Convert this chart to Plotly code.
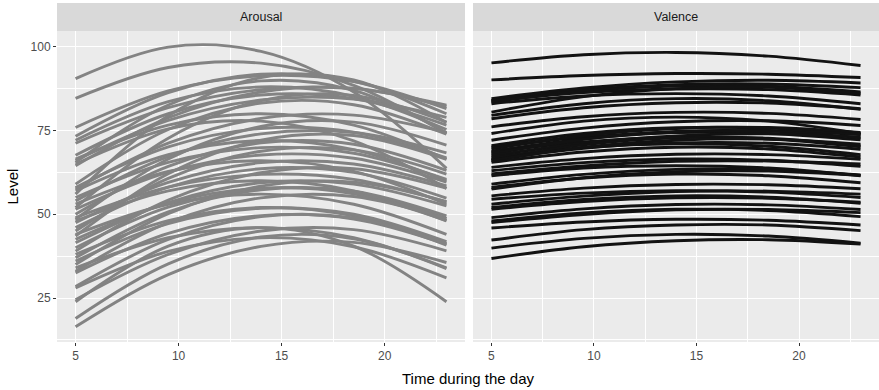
import plotly.graph_objects as go

times = [5, 9.5, 14, 18.5, 23]

arousal_curves = [
    [90.5, 99.9, 98.6, 86.5, 63.7],
    [84.6, 93.8, 95.1, 88.5, 74.1],
    [75.9, 86.8, 91.3, 89.6, 81.5],
    [73.3, 86.3, 91.8, 89.7, 80.0],
    [72.1, 83.6, 88.0, 85.2, 75.3],
    [71.2, 81.8, 87.2, 87.5, 82.6],
    [67.6, 80.0, 85.6, 84.5, 76.6],
    [66.5, 76.6, 80.0, 76.6, 66.5],
    [66.0, 78.0, 84.1, 84.4, 78.9],
    [65.5, 82.6, 89.8, 87.0, 74.3],
    [65.0, 75.5, 77.8, 71.9, 57.7],
    [64.5, 78.8, 86.5, 87.6, 82.1],
    [59.0, 75.3, 83.2, 82.7, 73.9],
    [58.0, 70.1, 75.6, 74.5, 66.8],
    [57.5, 71.2, 78.6, 79.6, 74.4],
    [57.0, 67.8, 72.0, 69.3, 60.0],
    [56.0, 79.4, 90.8, 90.1, 77.4],
    [55.0, 65.5, 69.9, 68.2, 60.4],
    [54.0, 67.2, 74.0, 74.4, 68.3],
    [53.0, 62.8, 66.0, 62.8, 53.0],
    [52.0, 72.7, 83.9, 85.5, 77.5],
    [51.5, 62.6, 67.7, 66.7, 59.6],
    [50.0, 64.3, 71.3, 70.9, 63.1],
    [49.0, 58.1, 61.9, 60.4, 53.7],
    [48.5, 66.5, 76.2, 77.5, 70.6],
    [48.0, 57.0, 60.0, 57.0, 48.0],
    [47.5, 59.5, 65.4, 65.0, 58.5],
    [46.0, 58.1, 63.6, 62.5, 54.8],
    [45.0, 60.7, 68.8, 69.2, 62.0],
    [44.0, 53.0, 56.0, 53.0, 44.0],
    [43.5, 62.1, 72.1, 73.5, 66.4],
    [42.5, 53.3, 57.8, 56.1, 48.1],
    [41.5, 53.5, 59.4, 59.0, 52.5],
    [40.0, 52.1, 57.6, 56.5, 48.8],
    [39.0, 54.2, 62.4, 63.6, 57.8],
    [38.0, 48.1, 52.0, 49.5, 40.8],
    [37.0, 50.7, 57.3, 56.9, 49.5],
    [36.0, 47.2, 51.8, 50.0, 41.8],
    [35.0, 50.2, 58.4, 59.6, 53.8],
    [34.0, 43.0, 46.0, 43.0, 34.0],
    [33.0, 47.5, 54.9, 55.3, 48.7],
    [32.5, 44.3, 49.6, 48.6, 41.1],
    [28.4, 42.5, 49.3, 48.9, 41.3],
    [28.0, 38.9, 43.0, 40.3, 31.0],
    [24.5, 38.0, 45.0, 45.4, 39.1],
    [23.9, 40.5, 46.0, 40.5, 23.9],
    [18.9, 35.2, 43.2, 42.7, 33.8],
    [16.4, 32.0, 40.4, 41.6, 35.6],
]

valence_curves = [
    [95.2, 97.6, 98.3, 97.2, 94.4],
    [90.1, 91.4, 92.0, 91.8, 90.8],
    [84.5, 87.7, 89.5, 90.0, 89.2],
    [84.0, 87.1, 88.7, 88.9, 87.8],
    [83.5, 86.8, 88.3, 88.2, 86.5],
    [83.0, 85.3, 86.0, 85.3, 83.0],
    [83.8, 86.3, 87.4, 87.2, 85.6],
    [80.5, 85.1, 87.5, 87.9, 86.1],
    [79.5, 83.0, 84.5, 83.9, 81.3],
    [78.5, 81.8, 83.3, 83.2, 81.5],
    [76.1, 79.1, 80.4, 80.1, 78.3],
    [74.1, 77.8, 79.0, 77.8, 74.1],
    [72.1, 75.7, 77.6, 77.9, 76.5],
    [70.5, 74.1, 75.8, 75.7, 73.8],
    [70.0, 73.0, 74.4, 74.1, 72.2],
    [69.5, 73.5, 75.6, 75.9, 74.4],
    [68.8, 72.5, 74.5, 75.0, 73.8],
    [68.5, 71.6, 73.0, 72.5, 70.1],
    [68.0, 72.4, 74.7, 74.8, 72.8],
    [67.5, 71.2, 73.4, 74.0, 73.0],
    [67.0, 69.9, 71.0, 70.3, 67.8],
    [66.5, 70.7, 72.8, 72.7, 70.4],
    [66.2, 69.7, 71.3, 71.2, 69.4],
    [66.0, 70.0, 72.1, 72.4, 70.9],
    [65.5, 68.6, 70.0, 69.5, 67.1],
    [64.0, 66.6, 67.9, 67.8, 66.4],
    [63.0, 65.4, 66.5, 66.1, 64.3],
    [62.0, 64.4, 65.8, 65.9, 65.0],
    [61.5, 63.8, 64.5, 63.8, 61.5],
    [59.0, 61.9, 63.4, 63.3, 61.7],
    [58.0, 60.8, 62.0, 61.5, 59.4],
    [57.5, 60.9, 62.7, 62.9, 61.6],
    [55.5, 57.8, 58.9, 58.8, 57.6],
    [54.5, 56.3, 57.0, 56.6, 55.0],
    [53.0, 55.4, 56.8, 56.9, 56.0],
    [52.0, 54.4, 55.5, 55.1, 53.3],
    [51.5, 53.8, 54.9, 54.8, 53.6],
    [49.0, 51.6, 52.9, 52.8, 51.4],
    [48.0, 50.4, 51.5, 51.1, 49.3],
    [47.5, 49.9, 51.3, 51.4, 50.5],
    [45.9, 47.7, 48.5, 48.2, 46.8],
    [42.3, 45.4, 46.8, 46.8, 45.1],
    [39.9, 42.8, 44.0, 43.5, 41.4],
    [36.8, 40.3, 42.1, 42.4, 41.1],
]

panel_titles = ["Arousal", "Valence"]
x_ticks = [5, 10, 15, 20]
y_ticks = [25, 50, 75, 100]

FONT = "Liberation Sans, Arial, Helvetica, sans-serif"
W, H = 879, 390
ML, MR, MT, MB = 57, 0, 3, 48
plot_w = W - ML - MR
plot_h = H - MT - MB
strip_h = 28
panel_top = 1 - strip_h / plot_h
dom_left = [0.0, (465 - ML) / plot_w]
dom_right = [(473 - ML) / plot_w, 1.0]

fig = go.Figure()
for c in arousal_curves:
    fig.add_trace(go.Scatter(x=times, y=c, mode="lines", xaxis="x", yaxis="y",
                             line=dict(color="#838383", width=2.9, shape="spline"),
                             hoverinfo="skip", showlegend=False))
for c in valence_curves:
    fig.add_trace(go.Scatter(x=times, y=c, mode="lines", xaxis="x2", yaxis="y2",
                             line=dict(color="#121212", width=2.9, shape="spline"),
                             hoverinfo="skip", showlegend=False))

xrange = [4.1, 23.9]
yrange = [11.87, 104.7]

def xax(domain, anchor):
    return dict(domain=domain, anchor=anchor, range=xrange, tickvals=x_ticks,
                ticktext=[str(v) for v in x_ticks], showgrid=True, gridcolor="white",
                gridwidth=1.1, zeroline=False, ticks="outside", ticklen=3, tickwidth=1,
                tickcolor="#333333", tickfont=dict(family=FONT, size=12, color="#4D4D4D"),
                showline=False, fixedrange=True,
                minor=dict(tickvals=[7.5, 12.5, 17.5, 22.5], showgrid=True,
                           gridcolor="white", gridwidth=0.55, ticks=""))

def yax(domain, anchor, labels):
    d = dict(domain=domain, anchor=anchor, range=yrange, tickvals=y_ticks,
             showgrid=True, gridcolor="white", gridwidth=1.1, zeroline=False,
             showline=False, fixedrange=True,
             minor=dict(tickvals=[12.5, 37.5, 62.5, 87.5], showgrid=True,
                        gridcolor="white", gridwidth=0.55, ticks=""))
    if labels:
        d.update(ticks="outside", ticklen=3, tickwidth=1, tickcolor="#333333",
                 tickfont=dict(family=FONT, size=12, color="#4D4D4D"),
                 ticktext=[str(v) for v in y_ticks])
    else:
        d.update(showticklabels=False, ticks="")
    return d

fig.update_layout(
    width=W, height=H,
    margin=dict(l=ML, r=MR, t=MT, b=MB, pad=0),
    paper_bgcolor="white", plot_bgcolor="#EBEBEB",
    xaxis=xax(dom_left, "y"),
    yaxis=yax([0, panel_top], "x", True),
    xaxis2=xax(dom_right, "y2"),
    yaxis2=yax([0, panel_top], "x2", False),
    showlegend=False,
)

shapes = []
annotations = []
for dom, title in zip([dom_left, dom_right], panel_titles):
    shapes.append(dict(type="rect", xref="paper", yref="paper", x0=dom[0], x1=dom[1],
                       y0=panel_top, y1=1.0, fillcolor="#D9D9D9", line=dict(width=0),
                       layer="below"))
    annotations.append(dict(text=title, xref="paper", yref="paper",
                            x=(dom[0] + dom[1]) / 2, y=(panel_top + 1) / 2,
                            showarrow=False, xanchor="center", yanchor="middle",
                            font=dict(family=FONT, size=12.5, color="#1A1A1A")))

annotations.append(dict(text="Time during the day", xref="paper", yref="paper",
                        x=0.5, y=-(378 - (H - MB)) / plot_h, showarrow=False,
                        xanchor="center", yanchor="middle",
                        font=dict(family=FONT, size=15, color="black")))
annotations.append(dict(text="Level", xref="paper", yref="paper",
                        x=-(ML - 12) / plot_w, y=panel_top / 2, showarrow=False,
                        textangle=-90, xanchor="center", yanchor="middle",
                        font=dict(family=FONT, size=15, color="black")))

fig.update_layout(shapes=shapes, annotations=annotations)
fig.write_html("out.html")
